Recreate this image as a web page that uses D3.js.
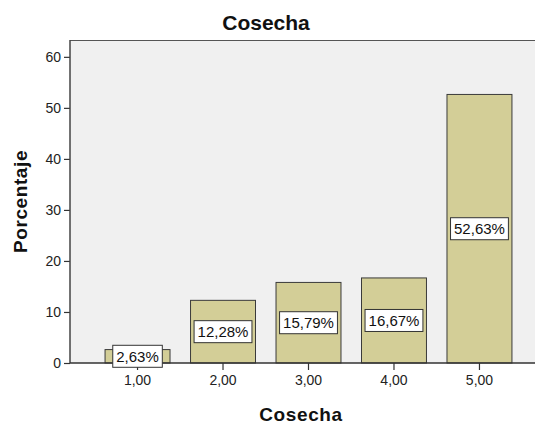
<!DOCTYPE html>
<html>
<head>
<meta charset="utf-8">
<script src="https://cdn.jsdelivr.net/npm/d3@7"></script>
<style>
  html, body { margin: 0; padding: 0; background: #fff; }
  svg { display: block; font-family: "Liberation Sans", Arial, sans-serif; }
</style>
</head>
<body>
<svg id="chart" width="535" height="425"></svg>
<script>
// Cosecha: percentage of cases per category
const categories = ["1,00", "2,00", "3,00", "4,00", "5,00"];
const percentages = [2.63, 12.28, 15.79, 16.67, 52.63];
const valueLabels = ["2,63%", "12,28%", "15,79%", "16,67%", "52,63%"];
const yTicks = [0, 10, 20, 30, 40, 50, 60];

const svg = d3.select("#chart");
const plot = { left: 70, right: 547, top: 40, bottom: 363 };
const FONT = "'Liberation Sans', Arial, sans-serif";

const x = d3.scaleBand()
  .domain(categories)
  .range([plot.left, plot.right])
  .paddingInner(0.24)
  .paddingOuter(0.41);

const y = d3.scaleLinear()
  .domain([0, 63.3])
  .range([plot.bottom, plot.top]);

// plot background
svg.append("rect")
  .attr("x", plot.left).attr("y", plot.top)
  .attr("width", plot.right - plot.left)
  .attr("height", plot.bottom - plot.top)
  .attr("fill", "#f0f0f0");

// top frame line
svg.append("line")
  .attr("x1", plot.left).attr("x2", plot.right)
  .attr("y1", plot.top + 0.5).attr("y2", plot.top + 0.5)
  .attr("stroke", "#555").attr("stroke-width", 1.2);

// bars
svg.append("g").selectAll("rect")
  .data(percentages)
  .join("rect")
  .attr("x", (d, i) => x(categories[i]))
  .attr("y", d => y(d))
  .attr("width", x.bandwidth())
  .attr("height", d => y(0) - y(d))
  .attr("fill", "#d3ce97")
  .attr("stroke", "#3a3a3a")
  .attr("stroke-width", 1);

// y axis
const yAxis = d3.axisLeft(y).tickValues(yTicks).tickSize(6).tickPadding(3).tickFormat(d3.format("d"));
const gy = svg.append("g").attr("transform", `translate(${plot.left},0)`).call(yAxis);
gy.select(".domain").remove();
gy.selectAll(".tick line").attr("stroke", "#333").attr("stroke-width", 1.2);
gy.selectAll(".tick text").attr("font-size", 14).attr("fill", "#222").attr("font-family", FONT);
svg.append("line")
  .attr("x1", plot.left).attr("x2", plot.left)
  .attr("y1", plot.top).attr("y2", plot.bottom)
  .attr("stroke", "#444").attr("stroke-width", 1.5);

// x axis
const xAxis = d3.axisBottom(x).tickSize(7).tickPadding(5);
const gx = svg.append("g").attr("transform", `translate(0,${plot.bottom})`).call(xAxis);
gx.select(".domain").remove();
gx.selectAll(".tick line").attr("stroke", "#333").attr("stroke-width", 1.2);
gx.selectAll(".tick text").attr("font-size", 14).attr("fill", "#222").attr("font-family", FONT);
svg.append("line")
  .attr("x1", plot.left).attr("x2", plot.right)
  .attr("y1", plot.bottom).attr("y2", plot.bottom)
  .attr("stroke", "#333").attr("stroke-width", 1.5);

// value labels in boxes at bar mid-height
const labels = svg.append("g").selectAll("g")
  .data(percentages)
  .join("g")
  .attr("transform", (d, i) =>
    `translate(${x(categories[i]) + x.bandwidth() / 2},${(y(d) + y(0)) / 2})`);
const boxes = labels.append("rect")
  .attr("fill", "#fff").attr("stroke", "#333").attr("stroke-width", 1);
const texts = labels.append("text")
  .attr("text-anchor", "middle").attr("dy", "0.36em")
  .attr("font-size", 15).attr("fill", "#111")
  .text((d, i) => valueLabels[i]);
texts.each(function (d, i) {
  const w = this.getComputedTextLength() + 7;
  d3.select(boxes.nodes()[i])
    .attr("x", -w / 2).attr("y", -11)
    .attr("width", w).attr("height", 22);
});

// titles
svg.append("text")
  .attr("x", 266).attr("y", 30)
  .attr("text-anchor", "middle")
  .attr("font-size", 21).attr("font-weight", "bold").attr("fill", "#111")
  .text("Cosecha");

svg.append("text")
  .attr("x", 301).attr("y", 421)
  .attr("text-anchor", "middle")
  .attr("font-size", 19).attr("font-weight", "bold").attr("fill", "#111")
  .attr("letter-spacing", 0.6)
  .text("Cosecha");

svg.append("text")
  .attr("transform", `translate(27,${(plot.top + plot.bottom) / 2}) rotate(-90)`)
  .attr("text-anchor", "middle")
  .attr("font-size", 19).attr("font-weight", "bold").attr("fill", "#111")
  .attr("letter-spacing", 0.6)
  .text("Porcentaje");
</script>
</body>
</html>
